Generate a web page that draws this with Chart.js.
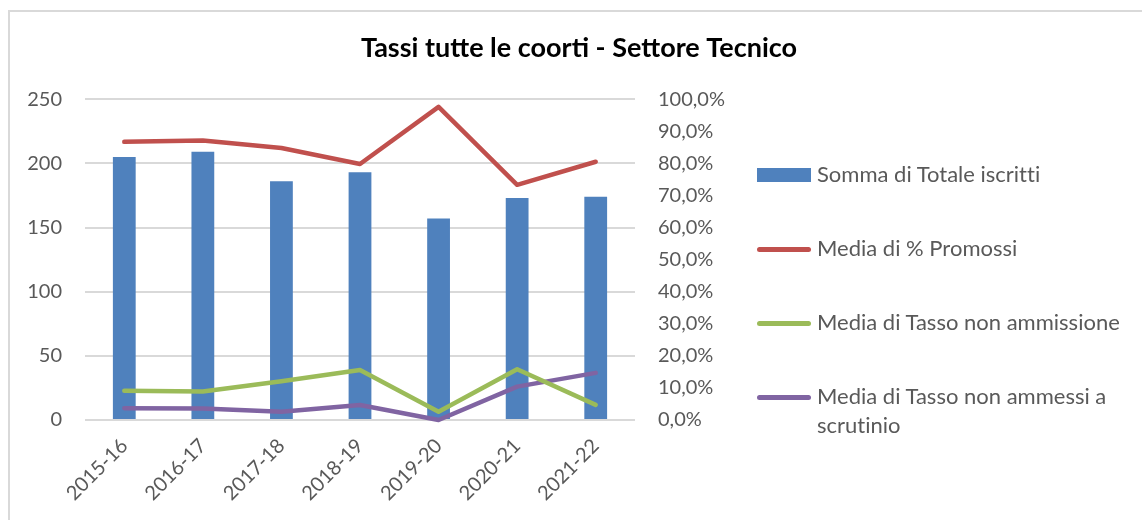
<!DOCTYPE html>
<html>
<head>
<meta charset="utf-8">
<script src="https://cdn.jsdelivr.net/npm/chart.js@4.4.1/dist/chart.umd.min.js"></script>
<style>
	body { margin: 0; background: #fff; }
	#wrap { position: relative; width: 1142px; height: 520px; overflow: hidden; }
	#frame {
		position: absolute; left: 8px; top: 10px; width: 1200px; height: 600px;
		border-left: 2px solid #d9d9d9; border-top: 2px solid #d9d9d9;
	}
	#chart { position: absolute; left: 0; top: 0; }
	#legend {
		position: absolute; left: 757px; top: 0;
		font-family: Lato, sans-serif; font-size: 22px; color: #595959;
		font-variant-ligatures: none;
	}
	.item { position: absolute; left: 0; width: 385px; }
	.sym { position: absolute; left: 0; width: 54px; }
	.txt { position: absolute; left: 60px; width: 318px; line-height: 29px; white-space: normal; }
</style>
</head>
<body>
<div id="wrap">
	<div id="frame"></div>
	<canvas id="chart" width="1142" height="520"></canvas>
	<div id="legend"></div>
</div>
<script>
const anni = ["2015-16", "2016-17", "2017-18", "2018-19", "2019-20", "2020-21", "2021-22"];
const iscritti = [205, 209, 186, 193, 157, 173, 174];
const promossi = [86.7, 87.1, 84.8, 79.8, 97.6, 73.3, 80.5];
const nonAmmissione = [9.1, 8.9, 12.1, 15.6, 2.6, 15.8, 4.7];
const nonAmmessiScrutinio = [3.7, 3.6, 2.6, 4.7, 0.0, 10.4, 14.7];

const nomi = [
	"Somma di Totale iscritti",
	"Media di % Promossi",
	"Media di Tasso non ammissione",
	"Media di Tasso non ammessi a scrutinio",
];
const colori = ["#4f81bd", "#c0504d", "#9bbb59", "#8064a2"];

// zero-width non-joiner keeps Lato from drawing the "ti" ligature
const titolo = "Tassi tutte le coor\u200Cti - Settore Tecnico";

const tickFont = { family: "Lato", size: 20 };
const grigio = "#595959";

const lineDs = (label, data, color) => ({
	type: "line",
	label: label,
	data: data,
	yAxisID: "y1",
	borderColor: color,
	backgroundColor: color,
	borderWidth: 4.5,
	borderCapStyle: "round",
	borderJoinStyle: "round",
	pointRadius: 0,
	tension: 0,
	order: 1,
	clip: 6,
});

const ctx = document.getElementById("chart").getContext("2d");
const chart = new Chart(ctx, {
	type: "bar",
	data: {
		labels: anni,
		datasets: [
			{
				label: nomi[0],
				data: iscritti,
				yAxisID: "y",
				backgroundColor: colori[0],
				categoryPercentage: 1,
				barPercentage: 0.29,
				order: 2,
			},
			lineDs(nomi[1], promossi, colori[1]),
			lineDs(nomi[2], nonAmmissione, colori[2]),
			lineDs(nomi[3], nonAmmessiScrutinio, colori[3]),
		],
	},
	options: {
		responsive: false,
		animation: false,
		layout: { padding: { left: 16, right: 0, top: 10, bottom: 0 } },
		plugins: {
			legend: { display: false },
			tooltip: { enabled: false },
			title: {
				display: true,
				text: titolo,
				color: "#000",
				font: { family: "Lato", size: 27, weight: "bold" },
				padding: { top: 22.5, bottom: 34.3 },
			},
		},
		scales: {
			x: {
				grid: { display: false },
				border: { display: false },
				ticks: { color: grigio, font: tickFont, minRotation: 45, maxRotation: 45, padding: 6 },
				afterFit: (axis) => { axis.height = 100; },
			},
			y: {
				position: "left",
				min: 0,
				max: 250,
				grid: { color: "#d9d9d9", lineWidth: 2, drawTicks: false },
				border: { display: false },
				ticks: { stepSize: 50, color: grigio, font: tickFont, padding: 23 },
				afterFit: (axis) => { axis.width = 69; },
			},
			y1: {
				position: "right",
				min: 0,
				max: 100,
				grid: { display: false, drawTicks: false },
				border: { display: false },
				ticks: {
					stepSize: 10,
					color: grigio,
					font: tickFont,
					padding: 23,
					callback: (v) => v.toFixed(1).replace(".", ",") + "%",
				},
				// the right axis also reserves the room for the legend
				afterFit: (axis) => { axis.width = 507; },
			},
		},
	},
});

// legend on the right, built from the dataset names and colours
const legendTops = [175, 249, 323, 397];
const legend = document.getElementById("legend");
nomi.forEach((nome, i) => {
	const item = document.createElement("div");
	item.className = "item";
	item.style.top = (legendTops[i] - 16) + "px";
	const sym = document.createElement("div");
	sym.className = "sym";
	sym.style.background = colori[i];
	if (i === 0) {
		sym.style.top = "9px";
		sym.style.height = "14px";
	} else {
		sym.style.top = "14px";
		sym.style.height = "4.5px";
		sym.style.borderRadius = "3px";
	}
	const txt = document.createElement("div");
	txt.className = "txt";
	txt.textContent = nome;
	item.appendChild(sym);
	item.appendChild(txt);
	legend.appendChild(item);
});
</script>
</body>
</html>
